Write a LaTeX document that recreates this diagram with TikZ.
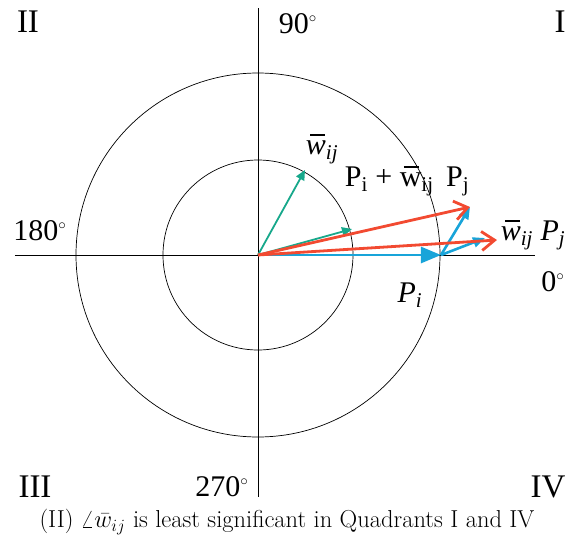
\documentclass[tikz,border=0pt]{standalone}
\usepackage{fix-cm}
\usepackage{amsmath}
\usepackage{fontspec}
\newfontfamily\tnr{Liberation Serif}
\usepackage{xcolor}
\usepackage{tikz}
\usetikzlibrary{arrows.meta}
\definecolor{vecTeal}{HTML}{17A88B}
\definecolor{vecBlue}{HTML}{18A4D9}
\definecolor{vecRed}{HTML}{F24A31}
\newcommand{\wbar}[1]{\makebox[0pt][l]{\hspace{0.14em}\rule[0.64em]{0.5em}{0.05em}}#1{w}}
\newcommand{\dg}{$^{\scriptscriptstyle\circ}$}
\tikzset{
  axisline/.style={draw=black, line width=0.7pt},
  ringline/.style={draw=black, line width=0.7pt},
  wvec/.style={draw=vecTeal, line width=1.8pt, -{Triangle[length=10pt,width=9pt]}},
  pivec/.style={draw=vecBlue, line width=2.6pt, -{Triangle[length=20pt,width=16pt]}},
  pjvec/.style={draw=vecBlue, line width=2.6pt, -{Triangle[length=12pt,width=10pt]}},
  sumvec/.style={draw=vecRed, line width=2.8pt, -{Straight Barb[length=13pt,width=19pt,line width=2.8pt]}},
  quadlabel/.style={font=\tnr\fontsize{33}{38}\selectfont, inner sep=0pt},
  anglabel/.style={font=\tnr\fontsize{30}{34}\selectfont, inner sep=0pt},
  veclabel/.style={font=\tnr\fontsize{30}{34}\selectfont, inner sep=0pt},
  captext/.style={font=\fontsize{24.5}{28}\selectfont, inner sep=0pt},
}

\begin{document}
\begin{tikzpicture}[x=1pt,y=1pt]
  \useasboundingbox (-258,-287) rectangle (316,255);

  % axes and rings
  \coordinate (O) at (0,0);
  \coordinate (xl) at (-243,0);
  \coordinate (xr) at (277,0);
  \coordinate (yt) at (0,247);
  \coordinate (yb) at (0,-242);
  \draw[axisline] (xl) -- (xr);
  \draw[axisline] (yt) -- (yb);
  \draw[ringline] (O) circle (95);
  \draw[ringline] (O) circle (182);

  % vector tips
  \coordinate (wa) at (47,85);
  \coordinate (wb) at (94,26);
  \coordinate (Pi) at (183,0);
  \coordinate (Pj1) at (212,48);
  \coordinate (Pj2) at (227,17);
  \coordinate (S1) at (212,48);
  \coordinate (S2) at (239,15);

  \draw[wvec] (O) -- (wa);
  \draw[wvec] (O) -- (wb);
  \draw[pivec] (O) -- (Pi);
  \draw[pjvec] (Pi) -- (Pj1);
  \draw[pjvec] (Pi) -- (Pj2);
  \draw[sumvec] (O) -- (S1);
  \draw[sumvec] (O) -- (S2);

  % labels
  \node[veclabel] (lw) at (64,106) {\wbar\textit\textsubscript{\textit{ij}}};
  \node[veclabel] (lsum) at (149,74) {P\textsubscript{i} + \wbar\textup\textsubscript{ij}\, P\textsubscript{j}};
  \node[veclabel] (lwp) at (275,20) {\wbar\textit\textsubscript{\textit{ij}} \textit{P}\textsubscript{\textit{j}}};
  \node[veclabel] (lpi) at (152,-40) {\textit{P}\textsubscript{\textit{i}}};

  \node[quadlabel] (q2) at (-230,233) {II};
  \node[quadlabel] (q1) at (302,233) {I};
  \node[quadlabel] (q3) at (-223,-232) {III};
  \node[quadlabel] (q4) at (290,-232) {IV};

  \node[anglabel] (a90) at (40,231) {90\dg};
  \node[anglabel] (a180) at (-218,24) {180\dg};
  \node[anglabel] (a0) at (295,-27) {0\dg};
  \node[anglabel] (a270) at (-36,-232) {270\dg};

  \node[captext] (cap) at (29,-267) {(II) $\angle\bar{w}_{ij}$ is least significant in Quadrants I and IV};
\end{tikzpicture}
\end{document}
